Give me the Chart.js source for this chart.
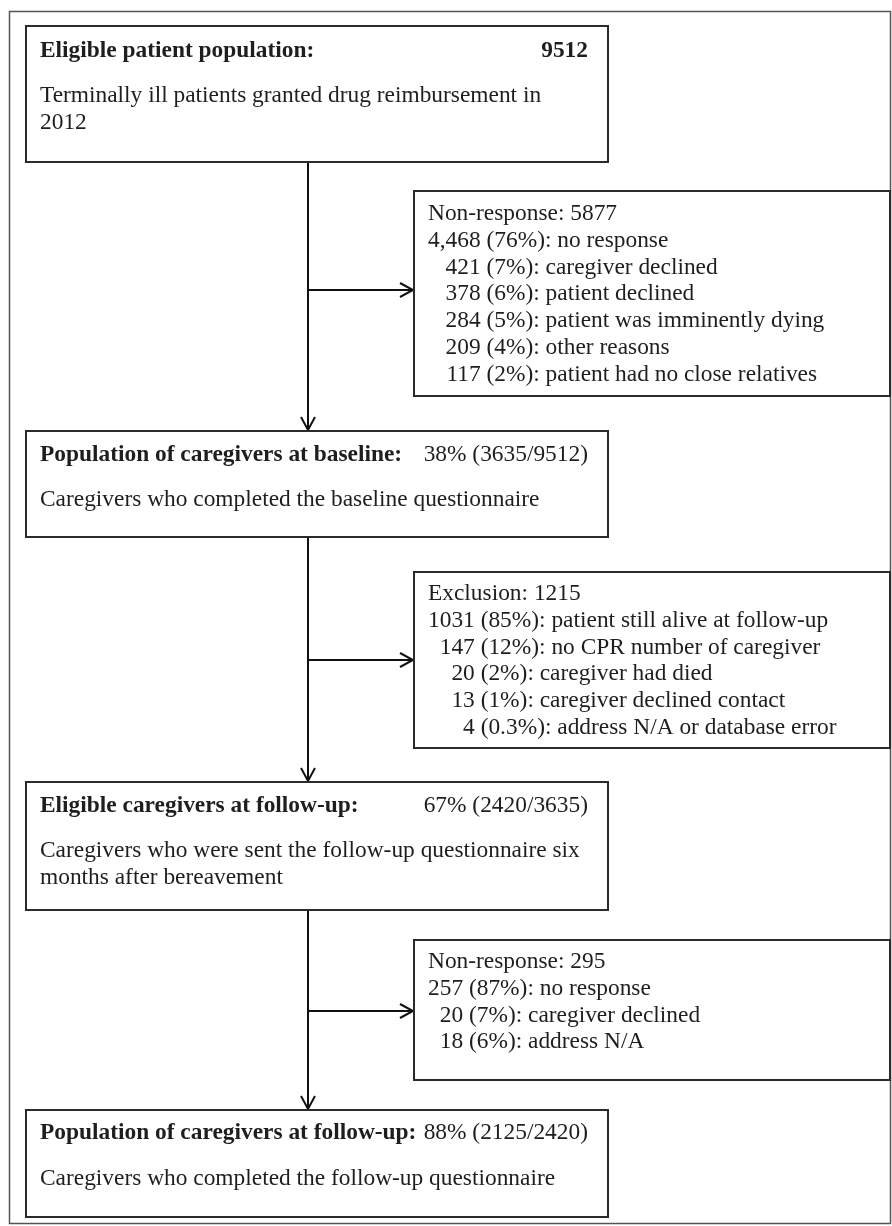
<!DOCTYPE html>
<html lang="en">
<head>
  <meta charset="UTF-8" />
  <title>Caregiver study flowchart</title>
  <script src="https://cdn.jsdelivr.net/npm/chart.js@4.4.0/dist/chart.umd.min.js"></script>
  <style>
    html, body { margin: 0; padding: 0; background: #ffffff; }
    #wrap { width: 892px; height: 1226px; position: relative; }
  </style>
</head>
<body>
  <div id="wrap"><canvas id="flow"></canvas></div>

  <script>
    // ==== Data ====
    const stageTitles = [
      'Eligible patient population:',
      'Population of caregivers at baseline:',
      'Eligible caregivers at follow-up:',
      'Population of caregivers at follow-up:'
    ];
    const stageCounts = [9512, 3635, 2420, 2125];
    const stageBases = [null, 9512, 3635, 2420];
    const stageShares = ['', '38%', '67%', '88%'];
    const stageNotes = [
      ['Terminally ill patients granted drug reimbursement in', '2012'],
      ['Caregivers who completed the baseline questionnaire'],
      ['Caregivers who were sent the follow-up questionnaire six', 'months after bereavement'],
      ['Caregivers who completed the follow-up questionnaire']
    ];

    const lossTitles = ['Non-response', 'Exclusion', 'Non-response'];
    const lossTotals = [5877, 1215, 295];

    const nonResponseCounts = ['4,468', '421', '378', '284', '209', '117'];
    const nonResponsePcts = ['76%', '7%', '6%', '5%', '4%', '2%'];
    const nonResponseReasons = ['no response', 'caregiver declined', 'patient declined',
      'patient was imminently dying', 'other reasons', 'patient had no close relatives'];

    const exclusionCounts = ['1031', '147', '20', '13', '4'];
    const exclusionPcts = ['85%', '12%', '2%', '1%', '0.3%'];
    const exclusionReasons = ['patient still alive at follow-up', 'no CPR number of caregiver',
      'caregiver had died', 'caregiver declined contact', 'address N/A or database error'];

    const followUpCounts = ['257', '20', '18'];
    const followUpPcts = ['87%', '7%', '6%'];
    const followUpReasons = ['no response', 'caregiver declined', 'address N/A'];

    const lossRows = [
      [nonResponseCounts, nonResponsePcts, nonResponseReasons],
      [exclusionCounts, exclusionPcts, exclusionReasons],
      [followUpCounts, followUpPcts, followUpReasons]
    ];

    // ==== Layout (in scale units, 1 unit = 1 px) ====
    const W = 892, H = 1226;
    const spineX = 308;
    const main = { x0: 26, x1: 608, textX: 40, valueRight: 588 };
    const mainY = [[26, 162], [431, 537], [782, 910], [1110, 1217]];
    const mainTitleY = [57, 461, 812, 1139];
    const mainNoteY = [[102, 129], [506], [857, 884], [1185]];
    const side = { x0: 414, x1: 890, textX: 428, lineGap: 26.8 };
    const sideY = [[191, 396], [572, 748], [940, 1080]];
    const sideFirstY = [220, 600, 968];
    const branchY = [290, 660, 1011];

    const FONT = '"Liberation Serif", "Times New Roman", serif';
    const SIZE = 23.4;
    const INK = '#1e1e1e';
    const EDGE = '#2b2b2b';

    function arrowHead(ctx, tx, ty, dir) {
      const len = 13, half = 7;
      ctx.beginPath();
      if (dir === 'down') {
        ctx.moveTo(tx - half, ty - len);
        ctx.lineTo(tx, ty);
        ctx.lineTo(tx + half, ty - len);
      } else {
        ctx.moveTo(tx - len, ty - half);
        ctx.lineTo(tx, ty);
        ctx.lineTo(tx - len, ty + half);
      }
      ctx.stroke();
    }

    // Plugin that draws the flowchart through the chart's scales
    const flowPlugin = {
      id: 'flow',
      afterDraw(chart) {
        const { ctx, scales: { x, y } } = chart;
        const px = v => x.getPixelForValue(v);
        const py = v => y.getPixelForValue(v);
        ctx.save();

        // outer frame
        ctx.strokeStyle = '#555555';
        ctx.lineWidth = 1.5;
        ctx.strokeRect(px(9.5), py(11.5), px(890.5) - px(9.5), py(1223.5) - py(11.5));

        // spine segments with arrows
        ctx.strokeStyle = '#111111';
        ctx.lineWidth = 2;
        for (let i = 0; i < mainY.length - 1; i++) {
          const top = py(mainY[i][1]), bottom = py(mainY[i + 1][0]);
          ctx.beginPath();
          ctx.moveTo(px(spineX), top);
          ctx.lineTo(px(spineX), bottom - 1);
          ctx.stroke();
          arrowHead(ctx, px(spineX), bottom - 1, 'down');
          // branch to side box
          const by = py(branchY[i]);
          ctx.beginPath();
          ctx.moveTo(px(spineX), by);
          ctx.lineTo(px(side.x0) - 1, by);
          ctx.stroke();
          arrowHead(ctx, px(side.x0) - 1, by, 'right');
        }

        // main boxes
        ctx.textBaseline = 'alphabetic';
        stageTitles.forEach((title, i) => {
          const [y0, y1] = mainY[i];
          ctx.fillStyle = '#ffffff';
          ctx.fillRect(px(main.x0), py(y0), px(main.x1) - px(main.x0), py(y1) - py(y0));
          ctx.strokeStyle = EDGE;
          ctx.lineWidth = 2;
          ctx.strokeRect(px(main.x0), py(y0), px(main.x1) - px(main.x0), py(y1) - py(y0));

          ctx.fillStyle = INK;
          ctx.font = `bold ${SIZE}px ${FONT}`;
          ctx.textAlign = 'left';
          ctx.fillText(title, px(main.textX), py(mainTitleY[i]));

          ctx.textAlign = 'right';
          if (stageBases[i] === null) {
            ctx.font = `bold ${SIZE}px ${FONT}`;
            ctx.fillText(String(stageCounts[i]), px(main.valueRight), py(mainTitleY[i]));
          } else {
            ctx.font = `${SIZE}px ${FONT}`;
            ctx.fillText(`${stageShares[i]} (${stageCounts[i]}/${stageBases[i]})`,
              px(main.valueRight), py(mainTitleY[i]));
          }

          ctx.font = `${SIZE}px ${FONT}`;
          ctx.textAlign = 'left';
          stageNotes[i].forEach((line, k) => {
            ctx.fillText(line, px(main.textX), py(mainNoteY[i][k]));
          });
        });

        // side (loss) boxes
        lossTitles.forEach((title, i) => {
          const [y0, y1] = sideY[i];
          ctx.fillStyle = '#ffffff';
          ctx.fillRect(px(side.x0), py(y0), px(side.x1) - px(side.x0), py(y1) - py(y0));
          ctx.strokeStyle = EDGE;
          ctx.lineWidth = 2;
          ctx.strokeRect(px(side.x0), py(y0), px(side.x1) - px(side.x0), py(y1) - py(y0));

          ctx.fillStyle = INK;
          ctx.font = `${SIZE}px ${FONT}`;
          ctx.textAlign = 'left';
          ctx.fillText(`${title}: ${lossTotals[i]}`, px(side.textX), py(sideFirstY[i]));

          const [counts, pcts, reasons] = lossRows[i];
          const colW = Math.max(...counts.map(c => ctx.measureText(c).width));
          const colRight = px(side.textX) + colW;
          counts.forEach((c, k) => {
            const ly = py(sideFirstY[i] + (k + 1) * side.lineGap);
            ctx.textAlign = 'right';
            ctx.fillText(c, colRight, ly);
            ctx.textAlign = 'left';
            ctx.fillText(` (${pcts[k]}): ${reasons[k]}`, colRight, ly);
          });
        });

        ctx.restore();
      }
    };

    const ctxFlow = document.getElementById('flow').getContext('2d');
    const flowChart = new Chart(ctxFlow, {
      type: 'scatter',
      data: { datasets: [{ data: [], pointRadius: 0 }] },
      options: {
        responsive: true,
        maintainAspectRatio: false,
        animation: false,
        events: [],
        layout: { padding: 0 },
        plugins: { legend: { display: false }, tooltip: { enabled: false } },
        scales: {
          x: { type: 'linear', min: 0, max: W, display: false },
          y: { type: 'linear', min: 0, max: H, reverse: true, display: false }
        }
      },
      plugins: [flowPlugin]
    });
  </script>
</body>
</html>
